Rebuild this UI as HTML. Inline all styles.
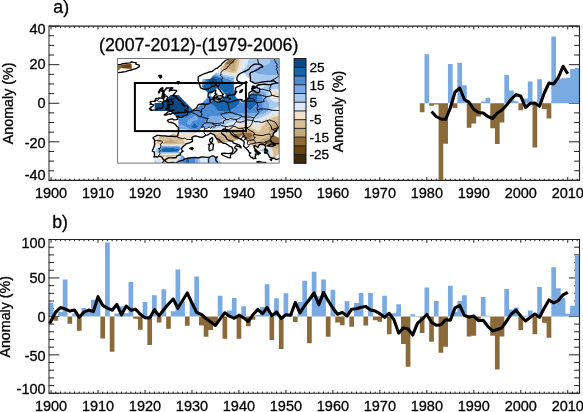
<!DOCTYPE html>
<html><head><meta charset="utf-8"><style>
html,body{margin:0;padding:0;background:#fff;}
body{width:583px;height:412px;overflow:hidden;font-family:"Liberation Sans",sans-serif;}
svg{display:block;}
</style></head><body>
<svg width="583" height="412" viewBox="0 0 583 412">
<rect width="583" height="412" fill="#fff"/>
<path fill="none" stroke="#222" stroke-width="1" d="M51.05 180.4v-3.3M51.05 26.1v3.3M55.75 180.4v-1.7M55.75 26.1v1.7M60.44 180.4v-1.7M60.44 26.1v1.7M65.14 180.4v-1.7M65.14 26.1v1.7M69.84 180.4v-1.7M69.84 26.1v1.7M74.54 180.4v-1.7M74.54 26.1v1.7M79.23 180.4v-1.7M79.23 26.1v1.7M83.93 180.4v-1.7M83.93 26.1v1.7M88.63 180.4v-1.7M88.63 26.1v1.7M93.32 180.4v-1.7M93.32 26.1v1.7M98.02 180.4v-3.3M98.02 26.1v3.3M102.72 180.4v-1.7M102.72 26.1v1.7M107.42 180.4v-1.7M107.42 26.1v1.7M112.11 180.4v-1.7M112.11 26.1v1.7M116.81 180.4v-1.7M116.81 26.1v1.7M121.51 180.4v-1.7M121.51 26.1v1.7M126.21 180.4v-1.7M126.21 26.1v1.7M130.9 180.4v-1.7M130.9 26.1v1.7M135.6 180.4v-1.7M135.6 26.1v1.7M140.3 180.4v-1.7M140.3 26.1v1.7M145 180.4v-3.3M145 26.1v3.3M149.69 180.4v-1.7M149.69 26.1v1.7M154.39 180.4v-1.7M154.39 26.1v1.7M159.09 180.4v-1.7M159.09 26.1v1.7M163.78 180.4v-1.7M163.78 26.1v1.7M168.48 180.4v-1.7M168.48 26.1v1.7M173.18 180.4v-1.7M173.18 26.1v1.7M177.88 180.4v-1.7M177.88 26.1v1.7M182.57 180.4v-1.7M182.57 26.1v1.7M187.27 180.4v-1.7M187.27 26.1v1.7M191.97 180.4v-3.3M191.97 26.1v3.3M196.67 180.4v-1.7M196.67 26.1v1.7M201.36 180.4v-1.7M201.36 26.1v1.7M206.06 180.4v-1.7M206.06 26.1v1.7M210.76 180.4v-1.7M210.76 26.1v1.7M215.46 180.4v-1.7M215.46 26.1v1.7M220.15 180.4v-1.7M220.15 26.1v1.7M224.85 180.4v-1.7M224.85 26.1v1.7M229.55 180.4v-1.7M229.55 26.1v1.7M234.25 180.4v-1.7M234.25 26.1v1.7M238.94 180.4v-3.3M238.94 26.1v3.3M243.64 180.4v-1.7M243.64 26.1v1.7M248.34 180.4v-1.7M248.34 26.1v1.7M253.03 180.4v-1.7M253.03 26.1v1.7M257.73 180.4v-1.7M257.73 26.1v1.7M262.43 180.4v-1.7M262.43 26.1v1.7M267.13 180.4v-1.7M267.13 26.1v1.7M271.82 180.4v-1.7M271.82 26.1v1.7M276.52 180.4v-1.7M276.52 26.1v1.7M281.22 180.4v-1.7M281.22 26.1v1.7M285.92 180.4v-3.3M285.92 26.1v3.3M290.61 180.4v-1.7M290.61 26.1v1.7M295.31 180.4v-1.7M295.31 26.1v1.7M300.01 180.4v-1.7M300.01 26.1v1.7M304.71 180.4v-1.7M304.71 26.1v1.7M309.4 180.4v-1.7M309.4 26.1v1.7M314.1 180.4v-1.7M314.1 26.1v1.7M318.8 180.4v-1.7M318.8 26.1v1.7M323.49 180.4v-1.7M323.49 26.1v1.7M328.19 180.4v-1.7M328.19 26.1v1.7M332.89 180.4v-3.3M332.89 26.1v3.3M337.59 180.4v-1.7M337.59 26.1v1.7M342.28 180.4v-1.7M342.28 26.1v1.7M346.98 180.4v-1.7M346.98 26.1v1.7M351.68 180.4v-1.7M351.68 26.1v1.7M356.38 180.4v-1.7M356.38 26.1v1.7M361.07 180.4v-1.7M361.07 26.1v1.7M365.77 180.4v-1.7M365.77 26.1v1.7M370.47 180.4v-1.7M370.47 26.1v1.7M375.17 180.4v-1.7M375.17 26.1v1.7M379.86 180.4v-3.3M379.86 26.1v3.3M384.56 180.4v-1.7M384.56 26.1v1.7M389.26 180.4v-1.7M389.26 26.1v1.7M393.95 180.4v-1.7M393.95 26.1v1.7M398.65 180.4v-1.7M398.65 26.1v1.7M403.35 180.4v-1.7M403.35 26.1v1.7M408.05 180.4v-1.7M408.05 26.1v1.7M412.74 180.4v-1.7M412.74 26.1v1.7M417.44 180.4v-1.7M417.44 26.1v1.7M422.14 180.4v-1.7M422.14 26.1v1.7M426.84 180.4v-3.3M426.84 26.1v3.3M431.53 180.4v-1.7M431.53 26.1v1.7M436.23 180.4v-1.7M436.23 26.1v1.7M440.93 180.4v-1.7M440.93 26.1v1.7M445.63 180.4v-1.7M445.63 26.1v1.7M450.32 180.4v-1.7M450.32 26.1v1.7M455.02 180.4v-1.7M455.02 26.1v1.7M459.72 180.4v-1.7M459.72 26.1v1.7M464.42 180.4v-1.7M464.42 26.1v1.7M469.11 180.4v-1.7M469.11 26.1v1.7M473.81 180.4v-3.3M473.81 26.1v3.3M478.51 180.4v-1.7M478.51 26.1v1.7M483.2 180.4v-1.7M483.2 26.1v1.7M487.9 180.4v-1.7M487.9 26.1v1.7M492.6 180.4v-1.7M492.6 26.1v1.7M497.3 180.4v-1.7M497.3 26.1v1.7M501.99 180.4v-1.7M501.99 26.1v1.7M506.69 180.4v-1.7M506.69 26.1v1.7M511.39 180.4v-1.7M511.39 26.1v1.7M516.09 180.4v-1.7M516.09 26.1v1.7M520.78 180.4v-3.3M520.78 26.1v3.3M525.48 180.4v-1.7M525.48 26.1v1.7M530.18 180.4v-1.7M530.18 26.1v1.7M534.88 180.4v-1.7M534.88 26.1v1.7M539.57 180.4v-1.7M539.57 26.1v1.7M544.27 180.4v-1.7M544.27 26.1v1.7M548.97 180.4v-1.7M548.97 26.1v1.7M553.66 180.4v-1.7M553.66 26.1v1.7M558.36 180.4v-1.7M558.36 26.1v1.7M563.06 180.4v-1.7M563.06 26.1v1.7M567.76 180.4v-3.3M567.76 26.1v3.3M572.45 180.4v-1.7M572.45 26.1v1.7M577.15 180.4v-1.7M577.15 26.1v1.7M48.7 180.4h10.6M579.5 180.4h-10.6M48.7 170.76h5.3M579.5 170.76h-5.3M48.7 161.11h5.3M579.5 161.11h-5.3M48.7 151.47h5.3M579.5 151.47h-5.3M48.7 141.82h10.6M579.5 141.82h-10.6M48.7 132.18h5.3M579.5 132.18h-5.3M48.7 122.54h5.3M579.5 122.54h-5.3M48.7 112.89h5.3M579.5 112.89h-5.3M48.7 103.25h10.6M579.5 103.25h-10.6M48.7 93.61h5.3M579.5 93.61h-5.3M48.7 83.96h5.3M579.5 83.96h-5.3M48.7 74.32h5.3M579.5 74.32h-5.3M48.7 64.68h10.6M579.5 64.68h-10.6M48.7 55.03h5.3M579.5 55.03h-5.3M48.7 45.39h5.3M579.5 45.39h-5.3M48.7 35.74h5.3M579.5 35.74h-5.3M48.7 26.1h10.6M579.5 26.1h-10.6"/>
<path fill="#79aae1" d="M424.49 103.25H429.18V54.26H424.49ZM447.97 103.25H452.67V63.9H447.97ZM457.37 103.25H462.07V62.75H457.37ZM462.07 103.25H466.76V85.31H462.07ZM480.86 103.25H485.55V101.51H480.86ZM485.55 103.25H490.25V97.66H485.55ZM504.34 103.25H509.04V74.9H504.34ZM509.04 103.25H513.74V90.52H509.04ZM513.74 103.25H518.43V101.32H513.74ZM523.13 103.25H527.83V98.62H523.13ZM527.83 103.25H532.53V81.46H527.83ZM537.22 103.25H541.92V79.33H537.22ZM551.32 103.25H556.01V36.52H551.32ZM556.01 103.25H560.71V79.33H556.01ZM560.71 103.25H565.41V78.37H560.71ZM565.41 103.25H570.11V77.79H565.41ZM570.11 103.25H574.8V69.11H570.11ZM574.8 103.25H579.5V67.95H574.8Z"/>
<path fill="#8b6a3a" d="M419.79 103.25H424.49V112.32H419.79ZM429.18 103.25H433.88V105.85H429.18ZM433.88 103.25H438.58V104.6H433.88ZM438.58 103.25H443.28V179.63H438.58ZM443.28 103.25H447.97V143.75H443.28ZM452.67 103.25H457.37V107.88H452.67ZM466.76 103.25H471.46V127.75H466.76ZM471.46 103.25H476.16V123.5H471.46ZM476.16 103.25H480.86V116.56H476.16ZM490.25 103.25H494.95V128.32H490.25ZM494.95 103.25H499.65V143.95H494.95ZM499.65 103.25H504.34V122.54H499.65ZM518.43 103.25H523.13V110.19H518.43ZM532.53 103.25H537.22V147.61H532.53ZM541.92 103.25H546.62V109.04H541.92ZM546.62 103.25H551.32V118.49H546.62Z"/>
<path fill="none" stroke="#000" stroke-width="3.1" stroke-linejoin="round" d="M431.53 111.5 L436.23 116.5 L440.93 119 L445.63 119.3 L450.32 108 L455.02 92 L459.72 88 L464.42 99.5 L469.11 102.3 L473.81 109.5 L478.51 112.5 L483.2 113 L487.9 116.5 L492.6 118.5 L497.3 113 L501.99 110 L506.69 105 L511.39 99 L516.09 94.5 L520.78 96.2 L525.48 107.5 L530.18 103.3 L534.88 103 L539.57 106.2 L544.27 93 L548.97 83 L553.66 84 L558.36 77.5 L563.06 66.3 L567.76 73.8"/>
<path fill="none" stroke="#222" stroke-width="1.1" d="M49 26.1H579.5V180.4H49"/>
<path fill="none" stroke="#222" stroke-width="1" d="M49 25.55V180.95"/>
<path fill="none" stroke="#222" stroke-width="1" d="M51.05 393.3v-3.3M51.05 239.5v3.3M55.75 393.3v-1.7M55.75 239.5v1.7M60.44 393.3v-1.7M60.44 239.5v1.7M65.14 393.3v-1.7M65.14 239.5v1.7M69.84 393.3v-1.7M69.84 239.5v1.7M74.54 393.3v-1.7M74.54 239.5v1.7M79.23 393.3v-1.7M79.23 239.5v1.7M83.93 393.3v-1.7M83.93 239.5v1.7M88.63 393.3v-1.7M88.63 239.5v1.7M93.32 393.3v-1.7M93.32 239.5v1.7M98.02 393.3v-3.3M98.02 239.5v3.3M102.72 393.3v-1.7M102.72 239.5v1.7M107.42 393.3v-1.7M107.42 239.5v1.7M112.11 393.3v-1.7M112.11 239.5v1.7M116.81 393.3v-1.7M116.81 239.5v1.7M121.51 393.3v-1.7M121.51 239.5v1.7M126.21 393.3v-1.7M126.21 239.5v1.7M130.9 393.3v-1.7M130.9 239.5v1.7M135.6 393.3v-1.7M135.6 239.5v1.7M140.3 393.3v-1.7M140.3 239.5v1.7M145 393.3v-3.3M145 239.5v3.3M149.69 393.3v-1.7M149.69 239.5v1.7M154.39 393.3v-1.7M154.39 239.5v1.7M159.09 393.3v-1.7M159.09 239.5v1.7M163.78 393.3v-1.7M163.78 239.5v1.7M168.48 393.3v-1.7M168.48 239.5v1.7M173.18 393.3v-1.7M173.18 239.5v1.7M177.88 393.3v-1.7M177.88 239.5v1.7M182.57 393.3v-1.7M182.57 239.5v1.7M187.27 393.3v-1.7M187.27 239.5v1.7M191.97 393.3v-3.3M191.97 239.5v3.3M196.67 393.3v-1.7M196.67 239.5v1.7M201.36 393.3v-1.7M201.36 239.5v1.7M206.06 393.3v-1.7M206.06 239.5v1.7M210.76 393.3v-1.7M210.76 239.5v1.7M215.46 393.3v-1.7M215.46 239.5v1.7M220.15 393.3v-1.7M220.15 239.5v1.7M224.85 393.3v-1.7M224.85 239.5v1.7M229.55 393.3v-1.7M229.55 239.5v1.7M234.25 393.3v-1.7M234.25 239.5v1.7M238.94 393.3v-3.3M238.94 239.5v3.3M243.64 393.3v-1.7M243.64 239.5v1.7M248.34 393.3v-1.7M248.34 239.5v1.7M253.03 393.3v-1.7M253.03 239.5v1.7M257.73 393.3v-1.7M257.73 239.5v1.7M262.43 393.3v-1.7M262.43 239.5v1.7M267.13 393.3v-1.7M267.13 239.5v1.7M271.82 393.3v-1.7M271.82 239.5v1.7M276.52 393.3v-1.7M276.52 239.5v1.7M281.22 393.3v-1.7M281.22 239.5v1.7M285.92 393.3v-3.3M285.92 239.5v3.3M290.61 393.3v-1.7M290.61 239.5v1.7M295.31 393.3v-1.7M295.31 239.5v1.7M300.01 393.3v-1.7M300.01 239.5v1.7M304.71 393.3v-1.7M304.71 239.5v1.7M309.4 393.3v-1.7M309.4 239.5v1.7M314.1 393.3v-1.7M314.1 239.5v1.7M318.8 393.3v-1.7M318.8 239.5v1.7M323.49 393.3v-1.7M323.49 239.5v1.7M328.19 393.3v-1.7M328.19 239.5v1.7M332.89 393.3v-3.3M332.89 239.5v3.3M337.59 393.3v-1.7M337.59 239.5v1.7M342.28 393.3v-1.7M342.28 239.5v1.7M346.98 393.3v-1.7M346.98 239.5v1.7M351.68 393.3v-1.7M351.68 239.5v1.7M356.38 393.3v-1.7M356.38 239.5v1.7M361.07 393.3v-1.7M361.07 239.5v1.7M365.77 393.3v-1.7M365.77 239.5v1.7M370.47 393.3v-1.7M370.47 239.5v1.7M375.17 393.3v-1.7M375.17 239.5v1.7M379.86 393.3v-3.3M379.86 239.5v3.3M384.56 393.3v-1.7M384.56 239.5v1.7M389.26 393.3v-1.7M389.26 239.5v1.7M393.95 393.3v-1.7M393.95 239.5v1.7M398.65 393.3v-1.7M398.65 239.5v1.7M403.35 393.3v-1.7M403.35 239.5v1.7M408.05 393.3v-1.7M408.05 239.5v1.7M412.74 393.3v-1.7M412.74 239.5v1.7M417.44 393.3v-1.7M417.44 239.5v1.7M422.14 393.3v-1.7M422.14 239.5v1.7M426.84 393.3v-3.3M426.84 239.5v3.3M431.53 393.3v-1.7M431.53 239.5v1.7M436.23 393.3v-1.7M436.23 239.5v1.7M440.93 393.3v-1.7M440.93 239.5v1.7M445.63 393.3v-1.7M445.63 239.5v1.7M450.32 393.3v-1.7M450.32 239.5v1.7M455.02 393.3v-1.7M455.02 239.5v1.7M459.72 393.3v-1.7M459.72 239.5v1.7M464.42 393.3v-1.7M464.42 239.5v1.7M469.11 393.3v-1.7M469.11 239.5v1.7M473.81 393.3v-3.3M473.81 239.5v3.3M478.51 393.3v-1.7M478.51 239.5v1.7M483.2 393.3v-1.7M483.2 239.5v1.7M487.9 393.3v-1.7M487.9 239.5v1.7M492.6 393.3v-1.7M492.6 239.5v1.7M497.3 393.3v-1.7M497.3 239.5v1.7M501.99 393.3v-1.7M501.99 239.5v1.7M506.69 393.3v-1.7M506.69 239.5v1.7M511.39 393.3v-1.7M511.39 239.5v1.7M516.09 393.3v-1.7M516.09 239.5v1.7M520.78 393.3v-3.3M520.78 239.5v3.3M525.48 393.3v-1.7M525.48 239.5v1.7M530.18 393.3v-1.7M530.18 239.5v1.7M534.88 393.3v-1.7M534.88 239.5v1.7M539.57 393.3v-1.7M539.57 239.5v1.7M544.27 393.3v-1.7M544.27 239.5v1.7M548.97 393.3v-1.7M548.97 239.5v1.7M553.66 393.3v-1.7M553.66 239.5v1.7M558.36 393.3v-1.7M558.36 239.5v1.7M563.06 393.3v-1.7M563.06 239.5v1.7M567.76 393.3v-3.3M567.76 239.5v3.3M572.45 393.3v-1.7M572.45 239.5v1.7M577.15 393.3v-1.7M577.15 239.5v1.7M48.7 393.3h10.6M579.5 393.3h-10.6M48.7 385.61h5.3M579.5 385.61h-5.3M48.7 377.92h5.3M579.5 377.92h-5.3M48.7 370.23h5.3M579.5 370.23h-5.3M48.7 362.54h5.3M579.5 362.54h-5.3M48.7 354.85h10.6M579.5 354.85h-10.6M48.7 347.16h5.3M579.5 347.16h-5.3M48.7 339.47h5.3M579.5 339.47h-5.3M48.7 331.78h5.3M579.5 331.78h-5.3M48.7 324.09h5.3M579.5 324.09h-5.3M48.7 316.4h10.6M579.5 316.4h-10.6M48.7 308.71h5.3M579.5 308.71h-5.3M48.7 301.02h5.3M579.5 301.02h-5.3M48.7 293.33h5.3M579.5 293.33h-5.3M48.7 285.64h5.3M579.5 285.64h-5.3M48.7 277.95h10.6M579.5 277.95h-10.6M48.7 270.26h5.3M579.5 270.26h-5.3M48.7 262.57h5.3M579.5 262.57h-5.3M48.7 254.88h5.3M579.5 254.88h-5.3M48.7 247.19h5.3M579.5 247.19h-5.3M48.7 239.5h10.6M579.5 239.5h-10.6"/>
<path fill="#79aae1" d="M48.7 316.4H53.4V302.87H48.7ZM58.09 316.4H62.79V311.63H58.09ZM62.79 316.4H67.49V279.56H62.79ZM72.19 316.4H76.88V313.4H72.19ZM81.58 316.4H86.28V307.94H81.58ZM86.28 316.4H90.98V310.09H86.28ZM90.98 316.4H95.67V299.71H90.98ZM95.67 316.4H100.37V300.4H95.67ZM105.07 316.4H109.77V242.58H105.07ZM114.46 316.4H119.16V313.48H114.46ZM119.16 316.4H123.86V306.25H119.16ZM123.86 316.4H128.55V313.32H123.86ZM128.55 316.4H133.25V282.03H128.55ZM142.65 316.4H147.34V302.1H142.65ZM152.04 316.4H156.74V295.18H152.04ZM161.44 316.4H166.13V289.25H161.44ZM170.83 316.4H175.53V311.17H170.83ZM175.53 316.4H180.23V269.41H175.53ZM180.23 316.4H184.92V301.79H180.23ZM189.62 316.4H194.32V302.56H189.62ZM194.32 316.4H199.02V276.57H194.32ZM217.8 316.4H222.5V295.79H217.8ZM227.2 316.4H231.9V310.4H227.2ZM231.9 316.4H236.59V298.1H231.9ZM241.29 316.4H245.99V306.17H241.29ZM255.38 316.4H260.08V315.02H255.38ZM260.08 316.4H264.78V307.1H260.08ZM264.78 316.4H269.48V284.18H264.78ZM274.17 316.4H278.87V298.17H274.17ZM283.57 316.4H288.26V293.18H283.57ZM288.26 316.4H292.96V314.09H288.26ZM297.66 316.4H302.36V302.1H297.66ZM302.36 316.4H307.05V280.87H302.36ZM311.75 316.4H316.45V271.87H311.75ZM316.45 316.4H321.15V296.25H316.45ZM321.15 316.4H325.84V279.49H321.15ZM330.54 316.4H335.24V289.72H330.54ZM344.63 316.4H349.33V301.33H344.63ZM354.03 316.4H358.72V303.1H354.03ZM358.72 316.4H363.42V293.1H358.72ZM368.12 316.4H372.82V293.1H368.12ZM382.21 316.4H386.91V295.79H382.21ZM391.61 316.4H396.3V313.25H391.61ZM396.3 316.4H401V304.25H396.3ZM410.4 316.4H415.09V314.32H410.4ZM415.09 316.4H419.79V316.02H415.09ZM424.49 316.4H429.18V287.56H424.49ZM433.88 316.4H438.58V301.1H433.88ZM447.97 316.4H452.67V285.72H447.97ZM452.67 316.4H457.37V311.79H452.67ZM457.37 316.4H462.07V301.1H457.37ZM462.07 316.4H466.76V295.18H462.07ZM480.86 316.4H485.55V297.02H480.86ZM485.55 316.4H490.25V315.63H485.55ZM504.34 316.4H509.04V288.95H504.34ZM509.04 316.4H513.74V309.48H509.04ZM513.74 316.4H518.43V307.48H513.74ZM523.13 316.4H527.83V315.63H523.13ZM527.83 316.4H532.53V310.56H527.83ZM537.22 316.4H541.92V287.02H537.22ZM551.32 316.4H556.01V267.18H551.32ZM556.01 316.4H560.71V288.25H556.01ZM560.71 316.4H565.41V298.25H560.71ZM565.41 316.4H570.11V313.71H565.41ZM570.11 316.4H574.8V305.79H570.11ZM574.8 316.4H579.5V255.34H574.8Z"/>
<path fill="#8b6a3a" d="M53.4 316.4H58.09V320.71H53.4ZM67.49 316.4H72.19V323.63H67.49ZM76.88 316.4H81.58V330.86H76.88ZM100.37 316.4H105.07V338.62H100.37ZM109.77 316.4H114.46V351.7H109.77ZM133.25 316.4H137.95V318.63H133.25ZM137.95 316.4H142.65V329.86H137.95ZM147.34 316.4H152.04V344.93H147.34ZM156.74 316.4H161.44V322.55H156.74ZM166.13 316.4H170.83V328.7H166.13ZM184.92 316.4H189.62V325.7H184.92ZM199.02 316.4H203.71V325.55H199.02ZM203.71 316.4H208.41V336.86H203.71ZM208.41 316.4H213.11V329.93H208.41ZM213.11 316.4H217.8V325.24H213.11ZM222.5 316.4H227.2V338.7H222.5ZM236.59 316.4H241.29V338.7H236.59ZM245.99 316.4H250.69V326.24H245.99ZM250.69 316.4H255.38V319.86H250.69ZM269.48 316.4H274.17V339.93H269.48ZM278.87 316.4H283.57V348.93H278.87ZM292.96 316.4H297.66V321.94H292.96ZM307.05 316.4H311.75V343.16H307.05ZM325.84 316.4H330.54V336.86H325.84ZM335.24 316.4H339.94V322.55H335.24ZM339.94 316.4H344.63V325.24H339.94ZM349.33 316.4H354.03V326.63H349.33ZM363.42 316.4H368.12V325.55H363.42ZM372.82 316.4H377.51V320.32H372.82ZM377.51 316.4H382.21V321.63H377.51ZM386.91 316.4H391.61V334.32H386.91ZM401 316.4H405.7V344.08H401ZM405.7 316.4H410.4V366.69H405.7ZM419.79 316.4H424.49V333.01H419.79ZM429.18 316.4H433.88V341.7H429.18ZM438.58 316.4H443.28V352.7H438.58ZM443.28 316.4H447.97V346.85H443.28ZM466.76 316.4H471.46V336.47H466.76ZM471.46 316.4H476.16V335.86H471.46ZM476.16 316.4H480.86V319.78H476.16ZM490.25 316.4H494.95V335.86H490.25ZM494.95 316.4H499.65V369.46H494.95ZM499.65 316.4H504.34V336.47H499.65ZM518.43 316.4H523.13V329.93H518.43ZM532.53 316.4H537.22V334.32H532.53ZM541.92 316.4H546.62V322.71H541.92ZM546.62 316.4H551.32V337.7H546.62Z"/>
<path fill="none" stroke="#000" stroke-width="3.1" stroke-linejoin="round" d="M49.6 323.6 L55.75 312.1 L60.44 307.5 L65.14 309 L69.84 311.1 L74.54 310.1 L79.23 317.3 L83.93 312.1 L88.63 310.1 L93.32 311.6 L98.02 296.7 L102.72 305.4 L107.42 308.1 L112.11 310.2 L116.81 304.5 L121.51 314.8 L126.21 306.1 L130.9 310.2 L135.6 309.2 L140.3 314.3 L145 317.7 L149.69 317.9 L154.39 309.7 L159.09 315.9 L163.78 309.5 L168.48 304 L173.18 299 L177.88 308.3 L182.57 300.5 L187.27 293 L191.97 303 L196.67 312.4 L201.36 314.5 L206.06 318.5 L210.76 322 L215.46 325.4 L220.15 318.9 L224.85 312.8 L229.55 316.2 L234.25 318.3 L238.94 315.2 L243.64 317.8 L248.34 321.4 L253.03 314.7 L257.73 309.5 L262.43 313.7 L267.13 307.5 L271.82 315.7 L276.52 312 L281.22 318.4 L285.92 314.8 L290.61 315.3 L295.31 302.5 L300.01 312.8 L304.71 305.5 L309.4 299.5 L314.1 293 L318.8 304.8 L323.49 292.4 L328.19 300.7 L332.89 308 L337.59 314.2 L342.28 312.4 L346.98 316 L351.68 309.2 L356.38 308.8 L361.07 307.2 L365.77 306.5 L370.47 310.1 L375.17 311.1 L379.86 313.7 L384.56 317.3 L389.26 313.3 L393.95 319.7 L398.65 333.1 L403.35 327.9 L408.05 329 L412.74 335 L417.44 323.3 L422.14 319.2 L426.84 314.5 L431.53 322.3 L436.23 325.3 L440.93 324.8 L445.63 319.7 L450.32 320.2 L455.02 307.9 L459.72 305.3 L464.42 315.6 L469.11 317.1 L473.81 316.1 L478.51 320.7 L483.2 320.2 L487.9 326.4 L492.6 331 L497.3 329.5 L501.99 327.7 L506.69 321 L511.39 314 L516.09 310.2 L520.78 316 L525.48 321 L530.18 317.5 L534.88 314 L539.57 317.3 L544.27 308 L548.97 300 L553.66 302.8 L558.36 300.6 L563.06 294.8 L567.76 292.3"/>
<path fill="none" stroke="#222" stroke-width="1.1" d="M49 239.5H579.5V393.3H49"/>
<path fill="none" stroke="#222" stroke-width="1" d="M49 238.95V393.85"/>
<g font-family="Liberation Sans, sans-serif" fill="#000" stroke="#000" stroke-width="0.3" style="filter:grayscale(1)"><text x="45.6" y="34.1" font-size="14.5" text-anchor="end">40</text><text x="45.6" y="69.3" font-size="14.5" text-anchor="end">20</text><text x="45.6" y="108" font-size="14.5" text-anchor="end">0</text><text x="45.6" y="147.8" font-size="14.5" text-anchor="end">-20</text><text x="45.6" y="180.2" font-size="14.5" text-anchor="end">-40</text><text x="45.6" y="248.4" font-size="14.5" text-anchor="end">100</text><text x="45.6" y="283.1" font-size="14.5" text-anchor="end">50</text><text x="45.6" y="321.6" font-size="14.5" text-anchor="end">0</text><text x="45.6" y="360.5" font-size="14.5" text-anchor="end">-50</text><text x="45.6" y="393.9" font-size="14.5" text-anchor="end">-100</text><text x="51.05" y="198.1" font-size="14.5" text-anchor="middle">1900</text><text x="51.05" y="411.4" font-size="14.5" text-anchor="middle">1900</text><text x="98.02" y="198.1" font-size="14.5" text-anchor="middle">1910</text><text x="98.02" y="411.4" font-size="14.5" text-anchor="middle">1910</text><text x="145" y="198.1" font-size="14.5" text-anchor="middle">1920</text><text x="145" y="411.4" font-size="14.5" text-anchor="middle">1920</text><text x="191.97" y="198.1" font-size="14.5" text-anchor="middle">1930</text><text x="191.97" y="411.4" font-size="14.5" text-anchor="middle">1930</text><text x="238.94" y="198.1" font-size="14.5" text-anchor="middle">1940</text><text x="238.94" y="411.4" font-size="14.5" text-anchor="middle">1940</text><text x="285.92" y="198.1" font-size="14.5" text-anchor="middle">1950</text><text x="285.92" y="411.4" font-size="14.5" text-anchor="middle">1950</text><text x="332.89" y="198.1" font-size="14.5" text-anchor="middle">1960</text><text x="332.89" y="411.4" font-size="14.5" text-anchor="middle">1960</text><text x="379.86" y="198.1" font-size="14.5" text-anchor="middle">1970</text><text x="379.86" y="411.4" font-size="14.5" text-anchor="middle">1970</text><text x="426.84" y="198.1" font-size="14.5" text-anchor="middle">1980</text><text x="426.84" y="411.4" font-size="14.5" text-anchor="middle">1980</text><text x="473.81" y="198.1" font-size="14.5" text-anchor="middle">1990</text><text x="473.81" y="411.4" font-size="14.5" text-anchor="middle">1990</text><text x="520.78" y="198.1" font-size="14.5" text-anchor="middle">2000</text><text x="520.78" y="411.4" font-size="14.5" text-anchor="middle">2000</text><text x="567.76" y="198.1" font-size="14.5" text-anchor="middle">2010</text><text x="567.76" y="411.4" font-size="14.5" text-anchor="middle">2010</text><text x="53.3" y="12.8" font-size="17.7" text-anchor="start">a)</text><text x="52.2" y="228.3" font-size="17.7" text-anchor="start">b)</text><text transform="translate(13.3 103.35) rotate(-90)" font-size="14.25" text-anchor="middle">Anomaly (%)</text><text transform="translate(9.9 316.8) rotate(-90)" font-size="14.25" text-anchor="middle">Anomaly (%)</text></g>
<defs><clipPath id="mc"><rect x="117.6" y="58.5" width="161.6" height="104.6"/></clipPath></defs>
<g clip-path="url(#mc)">
<rect x="117.6" y="58.5" width="161.6" height="104.6" fill="#fff"/>
<path fill="#0c4a84" fill-rule="evenodd" d="M223.9 97.2L226 97.8L234 95.1L233.9 94.8L231.6 93.3L228.4 92.4L227.6 92.4L226 92.2L223.4 92.4L226 95ZM209.2 82.1L208.9 84L210.1 87.1L213 85.9L215.3 84.1L217 81.8L218.2 78.8L214.6 78.3L212.1 76.9L210.1 78.9L208.9 78.9L208.8 80.1ZM174.8 115.5L177.7 114.4L178.5 114.3L186.4 114.1L188.1 112.9L189.8 111.1L189.6 110.2L189.6 107.9L188.2 105.2L186.4 104.3L185.7 103.7L185.2 103L185.2 101.9L178.4 95L170.5 95L162.6 103L154.7 103L154.7 111.1L170.5 111.1Z"/>
<path fill="#1565ad" fill-rule="evenodd" d="M244.2 100.6L244.3 103.1L244.7 104L246.1 106.6L247.8 109L249.7 111.3L257.8 103.1L257.8 94.9L254 94.6L253 94.1L251 93.7ZM212.3 77.2L214 78.4L214.5 78.5L217.9 79L216.8 81.7L215.1 84L212.9 85.7L210.2 86.8L209.1 84L209.4 82.1L209.1 80.1L209.2 78.9L207.1 78.9L207 79.9L206 82.8L204.2 84.8L202.2 85.8L202.2 86.9L208 92.9L210.1 92.8L212 93L218.1 86.9L223.6 92.6L226 92.4L227.5 92.7L228.3 92.7L231.5 93.5L233.6 94.9L226 97.5L224 97L218.1 103L214 98.9L209.9 103L212.3 104.8L214.4 106.7L216.3 108.8L218 111.2L225.3 111.9L226 111.9L230 111.2L232.3 109.5L234.8 108L237.1 106.2L238.8 104L240.1 101.3L233.9 95L233.9 84.1L228.9 83.8L226 83.4L225.6 83.2L223.7 81.2L222.5 78.8L219.2 77.6L216 76.8L214.1 76.1L213.4 75.6L211.9 77.1ZM202.3 102.9L202.2 103L202.1 103.1L202.3 103.1ZM189.8 127.2L190.3 127.5L194.3 128.4L195.4 128.4L198 127.6L198.5 127.5L198.8 127.2L198.7 126.8L196.7 124.7L195 123.1L194.6 122.8L194.3 122.8L194 122.9L192.4 125.3L190.3 126.8L190 126.8ZM175.7 115L174.6 115.3L177 117.6L178.5 117.4L186.4 116.9L187.7 116.5L190.1 114.9L192.1 112.8L193.1 111.1L193.1 109.9L185 101.6L184.9 103.1L185.5 103.9L186.3 104.5L188 105.3L189.3 108L189.3 110.2L189.5 111L188 112.7L186.3 113.8L178.4 114.1L177.6 114.2ZM160.7 151.4L162.6 152L170.5 152L178.4 151.7L179 151.9L178.4 151.3L179.3 150.5L178.5 148.5L177.3 148.3L175.6 148.3L173.6 148.1L170.5 148L162.5 148L161.6 150.3ZM185.1 158L185.3 159.4L185.1 163.1L189.7 163.1L189.7 157.6L186.4 157.6L186.4 159.4Z"/>
<path fill="#4a8ad6" fill-rule="evenodd" d="M267 152.8L267.2 151.3L265.6 149.9L264.7 150.3L263.3 151.3L265.6 151.3ZM180 124.9L180.8 124.9L183.9 125.7L186.3 127.3L188.9 128.7L190.3 129.1L194.3 129.9L195.8 129.8L197 130L199.6 129.9L202.2 127.2L203.7 127.2L204.2 125.1L205.3 122.2L206.9 119.8L207.6 119.2L208.7 117.7L210.2 116.6L211.2 116.3L212.8 116.5L215 116.2L217 116.3L218.1 116.2L222.4 115.6L226 115.2L233.9 114.1L241.8 113.4L249.7 113.9L252.2 113.7L257.7 113.1L263.7 111.2L263.3 109.5L263.3 108.7L262.9 105.9L262.9 104.2L262.7 103L262.7 94.9L262.2 94.4L259.4 93.1L256.2 92.3L253.5 91.1L250.7 94L252.9 94.3L253.9 94.8L257.5 95.1L257.5 103L249.7 110.9L248 108.9L246.3 106.5L245 103.9L244.6 103L244.4 100.4L241.8 103L239.9 101.1L238.6 103.9L236.9 106.1L234.7 107.8L232.2 109.3L229.9 111L226 111.6L221.6 111.4L218.1 111L216.5 108.7L214.6 106.5L212.5 104.6L210.3 103L214.2 99.1L210.1 95L194.3 111.1L192.8 109.6L192.8 111L191.9 112.7L189.9 114.7L187.5 116.2L186.3 116.7L178.4 117.1L176.8 117.4L178.4 119.1L178.4 124.6ZM190.1 127.1L192.6 125.5L194.3 123L194.9 123.2L196.6 124.8L198.5 126.9L198.6 127.1L198.4 127.3L198 127.3L195.3 128.1L194.3 128.2ZM187.3 123.1L187.8 121.8L188.1 120.8L189.1 119.2L190.1 119L191.3 118.3L192.8 117.7L194.3 116.1L196.3 117.1L198 119.1L195.4 120.2L194.3 120.1L192.5 120.8L191.4 120.2L192 121.4L191.3 123.1L190.8 123.7L190.3 124.1L189 124.4ZM212.3 92.8L210.1 92.6L207.8 92.6L210.1 95ZM216.1 77.1L219.1 77.9L222.4 79L223.5 81.4L225.5 83.4L225.9 83.6L228.9 84.1L233.9 84.4L233.9 80.8L232.3 80.4L229.3 79.4L228 78.8L226 78.4L223.4 77.4L217.2 75.7L214.5 74.5L213.2 75.8L214 76.3ZM205.3 78.9L204.3 81.1L202.5 83.1L202.2 83.3L202.2 86L204.3 85.1L206.2 82.9L207.3 79.9L207.4 78.9ZM195.4 163.1L195.5 157.6L189.4 157.6L189.4 163.1ZM178.5 146.6L162.6 146.6L162.1 146.7L161.4 147.2L160.4 149.2L158.6 151.4L161.6 152.5L162.6 152.6L170.5 152.6L178.4 152.4L180.2 153.1L178.7 151.6L178.5 151.5L170.5 151.7L162.6 151.7L161.1 151.3L161.8 150.5L162.7 148.2L170.5 148.2L173.6 148.3L175.6 148.6L177.3 148.6L178.3 148.7L179.1 150.7L180.7 149L179.5 147.2L178.9 146.7ZM181.1 154.1L182 155.4L181.9 155.7L182.3 157.9L182.8 159.4L182.1 163.1L185.3 163.1L185.5 159.4L185.3 158.3Z"/>
<path fill="#7aaae3" fill-rule="evenodd" d="M258.2 74.4L261.8 74.8L269.3 75.2L274.1 75.6L279.2 75.7L279.2 58.5L269.4 58.5L269.4 62.7L267.2 64.3L265.6 65L260.6 65.7L257.6 66.7L255.3 68.5L253.5 70.8L255.6 72.9L257.6 74.2ZM206.7 119.7L205.1 122.1L204 125L203.4 127.2L210.1 127.2L210.2 127.3L212.5 125.6L215 124.1L218.1 122.5L222.5 119.7L223.4 119.2L225.4 118.7L243.5 116.9L257.7 116.1L261.2 114.8L265.6 113.3L268.9 111.1L268.8 110.2L269.1 107.6L269.1 106.4L269.7 103L267.7 100.9L266.8 97.9L266.8 96.1L266.6 94.1L265.7 92.2L264.9 91.6L261.6 90.8L257.2 90.3L255 89.6L253.3 91.3L256.2 92.5L259.3 93.3L262 94.6L262.5 95L262.5 103L262.6 104.2L262.6 105.9L263.1 108.7L263.1 109.5L263.5 111L257.6 112.8L252.2 113.4L249.7 113.6L241.8 113.1L233.9 113.9L217 116.1L215 115.9L212.8 116.3L211.2 116.1L210.1 116.3L208.5 117.5L207.4 119ZM261.3 151L261.1 151.3L263.6 151.3L264.8 150.6L265.6 150.2L267 151.4L266.8 152.6L268.2 154L268.8 151.3L267.1 149.7L265.6 148.7L263.8 149.5ZM214.4 74.7L217.1 75.9L223.3 77.6L225.9 78.6L227.9 79L229.2 79.6L232.2 80.6L233.9 81L233.9 78.9L234.8 78L233.9 78.1L226 76.6L221.6 75.2L217.7 74.4L215.4 73.6ZM202.2 83.5L202.6 83.3L204.5 81.2L205.6 78.9L203.5 78.9L203.1 79.8L202.2 80.7ZM178.4 129.1L186.3 129.7L187.5 130.2L190.8 130.8L197.7 131.8L199.8 129.7L197 129.8L195.8 129.6L194.3 129.6L190.4 128.9L189 128.5L186.4 127.1L184 125.5L180.8 124.6L180 124.6L178.4 124.4L178.4 127.2L176.9 128.7ZM187.8 120.7L187.6 121.8L187 123.2L189 124.6L190.4 124.3L191 123.9L191.5 123.2L192.2 121.4L191.9 120.7L192.5 121L194.3 120.3L195.4 120.4L198.4 119.2L196.4 116.9L194.3 115.8L192.7 117.5L191.2 118.1L190 118.7L188.9 119ZM195.2 157.6L195.2 163.1L197.9 163.1L198.1 157.6ZM170.5 146L162.6 145.9L161.5 146.1L160.1 147.2L159.6 148.3L158.6 149.5L157.5 150.2L156.6 151.3L157.7 152.3L158.6 152.3L159.7 152.5L161 153L162.6 153.3L178.4 153.1L180 153.8L181.2 155.4L180.9 156.8L181.1 158.1L180.3 159.3L179.9 160.9L179 163.1L182.3 163.1L183 159.4L182.5 157.8L182.2 155.7L182.2 155.3L179.8 152.7L178.5 152.2L170.5 152.4L162.6 152.4L161.6 152.2L159 151.3L160.6 149.3L161.6 147.4L162.2 146.9L162.6 146.9L178.4 146.9L178.8 147L179.3 147.4L180.5 149.2L181.4 148.3L180.7 147.2L179.5 146.2L178.5 145.9Z"/>
<path fill="#a9c9ef" fill-rule="evenodd" d="M215.2 73.8L217.7 74.6L221.5 75.5L225.9 76.8L233.9 78.3L234.5 78.3L236.7 76L233.9 76.3L226 74.7L222.8 73.9L216.3 72.6ZM254.2 83.4L257 82.3L258.5 82.1L261.6 83L263.3 85.2L263.5 86.9L262.2 87.4L260.9 87.5L258.9 88.1L257.7 88.1L256.7 88L254.8 89.8L257.1 90.5L261.6 91.1L264.8 91.8L265.5 92.4L266.3 94.1L266.6 96.1L266.6 97.9L267.5 101L269.4 103.1L268.8 106.4L268.9 107.6L268.6 110.2L268.6 111L265.5 113.1L261.2 114.6L257.6 115.9L243.5 116.7L226 118.3L223.3 119L219.9 121L218 122.2L214.8 123.9L212.4 125.4L210 127.1L213.2 130.3L214.2 129.6L215.7 128.9L222.1 127.3L226.8 124.1L229.6 122.9L232.6 121.9L236 121.4L243.1 120.6L246.5 120L249.8 119.2L257.7 119.2L260.5 118L266.2 115.7L270.8 112.7L272.8 111.1L273 110.5L273.6 109.2L279.2 106.3L279.2 101.7L273.5 101.2L272.1 100.4L270.2 98.4L268.9 95.7L268.7 94.1L269.8 91.1L272 89.4L273.5 89.2L279.2 89.8L279.2 75.5L274.1 75.3L269.4 74.9L261.9 74.5L258.3 74.1L257.7 73.9L255.8 72.7L253.9 70.8L255.5 68.6L257.7 66.9L260.7 66L265.6 65.2L267.3 64.5L269.7 62.8L269.7 58.5L248.6 58.5L247 64.1L245.7 66.7L244 69L241.7 70.8L241.7 70.9L241.8 70.8ZM212.8 131.3L213.1 130.5L211.8 130.5L212.4 131.5ZM261.3 151.3L263.9 149.7L265.6 148.9L267 149.9L268.5 151.4L268 153.8L269.2 155L269.7 153.4L270.2 151.9L270.3 151.3L270 150.9L267.9 149L265.6 147.4L262.8 148.4L260.2 149.8L258.9 151.3ZM206.8 160.1L207 163.1L221.7 163.1L218.1 159.4L218.1 157.6L206.8 157.6ZM203.3 79.9L203.8 78.9L202.2 78.9L202.2 81ZM178.4 131.3L187.1 132.1L188.9 132.4L191.5 132.5L196.5 133L197.9 131.6L190.8 130.6L187.5 129.9L186.4 129.4L178.5 128.8L177.1 128.5L175.5 130.2ZM197.9 157.6L197.6 163.1L200.4 163.1L200.7 159.4L200.7 157.6ZM162.6 146.2L178.4 146.2L179.4 146.4L180.5 147.4L181.3 148.5L182.2 147.5L181.9 147.2L180 145.6L178.5 145.2L170.5 145.4L162.6 145.2L160.9 145.6L158.8 147.2L158.6 147.6L157.6 148.1L156.1 148.8L154.7 151.1L154.7 163.1L159 163.1L156.5 161.5L154.8 159.3L154.8 151.6L156.7 153.3L158.6 153.2L160.4 153.6L162.6 153.9L178.4 153.8L179.5 154.3L180.3 155.4L180 157L178.4 159L177.5 159.3L176 161L173.8 162.7L173 163.1L179.3 163.1L180.1 161L180.5 159.4L181.3 158.2L181.1 156.8L181.4 155.3L180.2 153.6L178.5 152.9L162.6 153L161.1 152.8L159.7 152.3L158.6 152L157.8 152.1L156.9 151.3L157.7 150.3L158.7 149.7L159.8 148.4L160.3 147.4L161.6 146.4Z"/>
<path fill="#dbe8f7" fill-rule="evenodd" d="M214.8 132L218.1 130.6L221.1 130.3L224.5 129.8L226 129.5L233.9 125.7L241.8 124.4L249.7 124.3L252.3 124.7L257.7 126L258.9 124.4L260.8 122.3L262.9 120.4L264.3 119.2L267.9 117.5L270.5 116.1L273.6 113.9L279.2 112.9L279.2 106L273.4 109L272.8 110.4L272.6 111L270.9 112.4L268.5 114L266 115.5L260.4 117.8L257.6 119L249.7 119L246.5 119.8L243.1 120.3L236 121.1L232.5 121.7L229.5 122.6L226.7 123.8L222 127.1L215.6 128.7L214 129.4L213 130.1L213.4 130.5L212.9 130.5L212.6 131.1L212.3 131.3L213.1 132.7L214.1 132.1ZM268.7 95.8L270 98.5L272 100.6L273.5 101.4L279.2 101.9L279.2 97.8L276.7 98.1L273.6 98.3L271.9 96.6L271 95L271.9 93.3L273.5 91.9L279.2 92.8L279.2 89.6L273.5 89L271.9 89.2L269.6 91L268.5 94ZM260.3 150L262.9 148.7L265.6 147.7L267.7 149.2L270 151.4L269 154.8L270.6 156.4L271.1 155.4L271.5 153.3L271.8 151.3L270.9 150L268.7 148.1L267.4 147.2L266.2 146.6L265.6 146.4L264.8 146.4L262.2 147.2L261.1 147.7L258.7 148.3L257.6 149.6L256.2 149.9L257.7 151.3L259.1 151.3ZM256.4 88.2L257.7 88.4L258.9 88.3L260.9 87.8L262.3 87.7L263.7 87L263.5 85.1L261.7 82.8L258.6 81.9L257 82.1L255.2 82.8L253.9 83.2L257.7 86.9ZM216.1 72.9L222.8 74.1L225.9 75L233.9 76.5L236.4 76.3L241.8 70.8L241.9 70.9L244.2 69.2L245.9 66.9L247.2 64.2L248.9 58.5L243.4 58.5L241.7 62.7L238.9 71.9L237 73.9L233.9 74.5L224.2 72.5L217.4 71.4ZM200.5 159.4L200.1 163.1L207.2 163.1L207 160.1L207.1 157.6L200.5 157.6ZM176.8 133L178.4 133.6L187.3 134.4L189.2 134.2L191.3 134.3L193.1 134.2L195.2 134.3L196.7 132.7L191.5 132.3L189.2 132.2L187.1 131.8L178.5 131.1L175.7 130L174.2 131.5ZM154.7 146.2L154.7 159.6L156.4 161.7L158.5 163.1L173.6 163.1L176.2 161.1L177.6 159.5L178.5 159.2L180.2 157.1L180.6 155.3L179.7 154.1L178.5 153.6L162.6 153.7L160.5 153.4L158.6 153L156.8 153.1L154.8 151.3L156.3 149L157.8 148.4L158.7 147.8L159 147.4L161 145.8L162.6 145.5L170.5 145.7L178.4 145.5L179.9 145.8L181.7 147.4L182 147.7L183.4 146.3L182.4 146.1L180.7 144.9L180.2 145L178.5 144.5L170.5 144.8L162.6 144.5L160.9 144.9L160.2 144.8L158.6 145.6L157.1 145.6L155.6 146.2ZM158.7 158.2L157.1 157L156.5 155.4L157.5 154.2L158.6 154.2L159.7 154.4L161.5 154.4L162.6 154.6L178.4 154.5L179 154.8L179.5 155.4L179.3 156.3L178.4 157.4L176.8 157.7L175.4 158.3L173.9 158.7L171.6 160.5L170.5 161.1L165.6 160.2L159.6 158.3Z"/>
<path fill="#eee0cc" fill-rule="evenodd" d="M214.1 133.7L216.2 133.4L218.1 133L226 133.2L229.7 131L233.9 129L241.8 127.8L249.7 128.2L252.2 128.8L255.1 129.8L257.3 131.5L257.6 131.9L258.2 131.9L260.7 130.2L261.7 127.2L263.6 125.2L265.7 123.2L268 121.6L270.2 119.2L273.6 117.2L279.2 116.3L279.2 112.7L273.5 113.6L270.3 115.9L267.8 117.3L264.2 119L262.7 120.2L260.7 122.2L258.7 124.3L257.6 125.7L252.3 124.5L249.8 124L248.8 124L241.8 124.1L233.9 125.4L225.9 129.3L224.5 129.6L221 130.1L218 130.4L214.7 131.7L214 131.8L213 132.5L213.7 134ZM273.5 98.6L276.7 98.4L279.2 98.1L279.2 92.6L273.5 91.6L271.7 93.2L270.7 95L271.7 96.7ZM273.5 94.6L275.6 95L273.6 95.4L273.2 95ZM257.7 149.8L258.8 148.5L261.2 147.9L262.3 147.4L264.9 146.7L266.2 146.8L267.2 147.4L268.6 148.3L270.7 150.1L271.6 151.4L271.3 153.2L270.8 155.3L270.4 156.2L273.5 159.4L273.6 159.3L273.2 155.8L273.4 155.2L273.3 151.3L271.9 149L269.5 147.2L267 145.8L265.6 145.5L263.9 145.5L263.1 145.7L261.6 145.7L260 145.6L259 145.9L257.7 145.6L256.4 145.9L253.6 147.2L256.4 150.1ZM217.2 71.7L224.2 72.8L233.9 74.8L237.1 74.1L239.1 72L241.9 62.8L243.6 58.5L239.8 58.5L239.1 62.7L236.8 70.8L235.3 72.2L233.9 72.8L225.7 71L223.4 70.7L222.1 70.2L220.2 68.6ZM155.6 146.5L157.1 145.8L158.7 145.9L160.2 145L160.9 145.1L162.6 144.8L170.5 145L178.4 144.8L180.2 145.2L180.7 145.1L182.4 146.3L183.2 146.5L195.5 134L193.1 133.9L191.3 134.1L189.2 134L187.3 134.2L178.5 133.3L176.9 132.7L174.4 131.3L172.5 133.2L174.4 134.7L176.4 135.3L178.4 136.7L180.1 137.6L182.3 139.3L184.1 141.6L184.9 143.2L183.4 144.2L182.4 144L181.9 143.6L179.3 144.1L178.5 143.8L170.5 144.2L162.6 143.8L161.7 144L159 143.5L158.6 143.7L158.1 143.7L157.1 143.2L157.4 141.9L158.5 139L159.8 136.4L160.7 135.2L154.7 135.2L154.7 146.4ZM179.2 154.6L178.5 154.3L162.6 154.3L161.5 154.2L159.7 154.2L158.6 153.9L157.4 154L156.2 155.3L156.9 157.1L158.6 158.4L159.5 158.6L165.6 160.5L170.5 161.4L171.8 160.7L174 158.9L175.5 158.5L176.9 157.9L178.5 157.6L179.5 156.4L179.7 155.3ZM158.6 155.1L178.4 155.2L178.6 155.4L178.4 155.9L177.7 156L175.2 156L173.2 156.5L171.8 156.5L170.5 157.2L168.9 156.9L165.3 156.5L163.9 156.5L161.6 156.2L159.6 156.2L158.7 156.1L158.3 155.8L158.1 155.4L158.3 155.1Z"/>
<path fill="#d7bf98" fill-rule="evenodd" d="M225.9 132.9L218 132.7L216.1 133.2L214 133.5L213.6 133.8L214.3 135.3L218 135.3L221.2 136.1L223.6 137.7L225.1 140L225.6 142.3L226.7 142.2L227.5 140.8L228.1 135.3L231.7 133L233.9 131.9L241.8 130.5L249 130.6L250.3 130.8L252.9 132.1L255.1 133.8L256.2 135.3L255.8 137L255.8 137.5L254.7 140.3L252.4 141.9L250.8 142L249.7 142.4L249 142.5L253.8 147.4L256.4 146.1L257.7 145.8L259 146.1L260.1 145.8L261.6 146L263.1 145.9L263.9 145.7L265.6 145.7L266.9 146L269.4 147.4L271.7 149.2L273.1 151.4L273.2 155.1L273 155.8L273.4 159.2L273.5 159.4L279.2 153.6L279.2 147.6L273.6 148.5L273.1 147.7L270.8 146L267.8 144.9L267.3 144.9L265.6 144.5L264.3 144.5L262.5 144L260.9 143.9L259.6 143.2L260 141.6L261.9 139.5L264.6 138.3L265.6 138.3L267.4 137.1L269.2 135.3L269.1 134.7L269.1 131.7L268.8 130.3L268.8 128L268.4 127.2L269.2 126.9L271.6 125.3L273.6 123.3L276.6 122.4L279.2 121.1L279.2 116L273.5 117L270 119L267.8 121.4L265.5 123.1L263.5 125L261.5 127.1L260.5 130L258.2 131.6L257.7 131.7L257.5 131.4L255.2 129.6L252.3 128.5L249.8 128L241.8 127.6L233.9 128.8L229.6 130.8ZM273.5 95.7L276.7 95L273.5 94.3L272.9 95ZM221.9 70.4L223.3 70.9L225.7 71.2L233.9 73.1L235.4 72.4L237 70.9L239.3 62.8L240.1 58.5L237.1 58.5L236.4 62.8L234.3 70.8L234.1 71L233.9 71L232.4 70.7L231.1 69.6L228.3 68.4L227.5 68.2L225.3 67.5L223.9 66.7L222.6 66.2L220.1 68.8ZM159.6 136.3L158.2 138.9L157.2 141.9L156.8 143.3L158.1 144L158.7 144L159 143.8L161.7 144.3L162.6 144.1L170.5 144.4L178.4 144.1L179.3 144.3L181.9 143.9L182.4 144.2L183.4 144.4L185.2 143.3L184.3 141.4L182.5 139.2L180.3 137.4L178.5 136.5L176.5 135.1L174.5 134.5L172.7 133L170.5 135.2L160.5 135.2ZM165 141.7L167.4 140.2L170.5 138.6L173.3 140.5L178 143.2L170.5 143.5L162.9 143.2ZM161.6 156.4L163.9 156.8L165.3 156.8L168.8 157.2L170.5 157.5L171.8 156.8L173.2 156.8L175.2 156.2L177.7 156.2L178.5 156.1L178.8 155.7L178.9 155.3L178.7 155.1L178.5 155L162.6 155L158.6 154.9L158.2 154.9L157.8 155.3L158.1 155.9L158.6 156.3L159.6 156.4Z"/>
<path fill="#c4a77a" fill-rule="evenodd" d="M268.9 131.8L269 135.2L267.3 136.9L265.5 138L264.5 138.1L261.7 139.3L259.8 141.5L259.3 143.3L260.8 144.2L262.4 144.2L264.2 144.7L265.6 144.7L267.8 145.2L270.7 146.2L272.9 147.9L273.4 148.8L279.2 147.9L279.2 143.8L273.5 145.2L272.3 144.4L270.7 144.3L269 143.7L266.1 143.7L264 143.2L264.7 142.4L265.6 141.9L267.6 141.4L270.4 140.2L272.4 138.1L273.6 135.4L276.3 136.5L273.5 135L279.2 130.1L279.2 120.8L276.5 122.1L273.4 123L271.5 125.1L269.1 126.7L268.1 127.1L268.5 128.1L268.5 130.3ZM276.3 136.5L278.5 138.2L279.2 139.1L279.2 138ZM218.3 139.1L220.5 140.8L222 142.8L225.9 142.3L225.3 140L223.8 137.5L221.3 135.9L218.1 135.1L214.2 135.1L216.1 139ZM236.3 139.2L234 137.2L233.3 135.9L233 135.3L233.9 134.8L241.8 133.2L249.7 133L251.2 133.8L252.9 135.2L251.6 137.1L249.7 138.8L246.2 139.7L249.2 142.7L249.8 142.7L250.9 142.3L252.5 142.1L254.9 140.4L256.1 137.5L256.1 137L256.5 135.2L255.3 133.6L253 131.8L250.3 130.5L249.8 130.4L241.8 130.3L233.9 131.7L231.6 132.8L227.8 135.2L227.3 140.7L226.4 142.2L235.6 140.6L237.2 139.7ZM225.1 67.7L227.5 68.5L228.2 68.6L231 69.8L232.3 70.9L233.9 71.3L234.2 71.2L234.5 70.9L236.7 62.8L237.3 58.5L234.4 58.5L233.8 62.7L230.9 63.7L228.8 63.8L227.4 64.1L226 64.1L224.9 63.8L222.5 66.4L223.8 66.9ZM166.5 140.5L164.8 141.5L162.2 143.4L170.5 143.8L178.9 143.4L175.9 141.8L173.4 140.3L170.5 138.3Z"/>
<path fill="#8f6a3a" fill-rule="evenodd" d="M265.2 143.8L266.1 143.9L268.9 144L270.7 144.6L272.2 144.6L273.5 145.4L279.2 144L279.2 138.7L278.7 138L277.6 137.2L273.4 135.1L272.2 138L270.3 140L267.5 141.1L265.5 141.7L264.6 142.2L263.6 143.3ZM233.9 134.5L232.8 135.2L233 136L233.8 137.3L236.2 139.3L237 139.8L237.8 139.3L241.8 135.2L246.4 139.9L249.8 139L251.8 137.3L253.2 135.2L251.3 133.6L249.8 132.7L241.8 133ZM224.7 64.1L226 64.4L227.4 64.3L228.9 64L231 63.9L234 62.9L234.6 58.5L230.2 58.5ZM218 142.7L218.6 143.3L222.3 142.8L220.7 140.6L218.4 138.9L218.1 138.8L215.9 138.8L217.8 142.7Z"/>
<path fill="#6a4512" fill-rule="evenodd" d="M218.9 143.2L218.1 142.4L217.7 142.4L218.1 143.3Z"/>
<path fill="#8f6a3a" d="M117.6 65.6 121 64.9 124.6 64.6 128.3 64.3 131.3 64.1 131.6 68.6 128.3 68.5 124.6 68.3 121.2 68.1 119.5 69.5 118.4 70.6 117.6 70.9Z"/>
<path fill="#6a4512" d="M121.5 64.9 124.6 64.6 128.3 64.3 131.3 64.1 131.6 68.6 128.3 68.4 124.6 68.2 121.5 67.9Z"/>
<path fill="none" stroke="#000" stroke-width="1.35" stroke-linejoin="round" d="M232.5 55.5 228 59.5 225.2 60.7 223.6 62.3 222 63.6 221.1 65.2 218.8 66.8 217.3 68.1 215.7 68.7 213.5 70.2 212.5 71.3 209.3 72 206.8 72.9 204.6 73.6 202.4 74.5 199.8 75.8 198.2 76.8 198.2 78.7 198.1 80.3 198.6 81.6 198.9 83.2 199.5 84.5 200.1 86.1 200.1 87.1 201.4 88.4 203.3 89 204.6 89.3 206.2 89.3 207.8 88.9 209.7 88.1 211.6 86.8 212.8 86.1 214.7 86 215.7 84.2 216.3 83.2 216 84.8 216.9 85.8 217.9 86.1 218.5 86.4 217.9 88.1 219.2 89.3 220.1 90.3 220.7 91.6 222.3 93.2 223.3 94.2 222.3 95.1 223.3 97.1 223.6 97.7 224.9 97.9 227.4 97.7 228 96.7 227.4 95.8 229.3 95.3 231.8 95.1 233.1 94.8 234.7 93.8 235 92.6 235 91 235.6 89.3 235.3 88.1 236.9 87.1 238.8 86.4 240.7 85.2 242.3 84.2 241.3 82.9 239.4 81.9 237.5 81 236.9 79.7 236.9 77.7 237.9 75.8 238.8 74.5 241 73.2 243.2 72 245.8 71 248.3 69.7 249.6 68.4 250.5 66.8 252.8 65.2 254.7 64.2 256.9 64.1 259.1 64.2 261.6 65.2 262.9 66.8 260.4 67.4 258.5 69.1 255.3 70.7 253.1 71.6 250.5 72.6 249.9 74.5 250.2 76.5 250.5 78.1 250.5 79.7 250.2 81 252.1 81.9 253.7 82.9 255.3 83.4 256.9 83.1 259.4 82.6 261.6 82.1 264.8 81.6 268 81.3 271.1 81.3 273.4 80.6 275.9 82.3 278.1 83.1 275.9 83.2 272.7 83.9 271.1 84.5 268 84.7 264.8 84.2 261.6 84.5 258.5 85 256.9 85.5 256.9 86.8 257.8 88.1 259.7 88.4 259.4 89.7 259.7 91.6 258.8 92.6 257.2 92.6 255.3 91.9 254 90.6 251.8 91 250.2 91.9 248.9 93.2 248.9 94.8 249.1 96.1 249.3 97.4 249.6 98 248.6 98.4 247.4 99.2 245.8 99.3 245.5 100.3 244.2 100.8 242 101.1 241.3 100.6 242 99.6 240.4 99.5 237.9 99.8 235.6 100.4 233.1 101.4 229.9 102.2 227.4 102.4 226.1 101.9 225.2 101.1 223.6 100.9 221.7 101.3 220.1 101.7 218.8 102.2 217.3 102.2 216.6 101.3 214.7 101.1 214.1 100.3 213.8 99.6 212.8 99 213.1 97.4 214.1 96.7 214.7 95.5 216 94.8 216.9 94.2 215 93.5 215.4 92.6 215.7 91 216 90.1 214.1 90.8 212.5 92.1 209.7 92.2 208.4 93.2 208.1 94.8 208.1 97.1 209.7 97.7 209.7 99.3 210.3 100.3 209.7 101.3 210.9 102.5 209.3 103.5 208.1 103.8 205.2 104.5 203.9 104 201.4 104 198.9 104.3 197.6 105.6 197 107.1 196 108.3 195.1 108.8 193.8 109.9 193.2 110.6 190.6 111.6 188.4 112 187.5 112.8 187.5 114.5 186.2 115.1 184.3 115.6 183 116.1 182.7 116.9 181.4 117.4 178.9 117.2 178.3 116.1 176.4 116.1 177.3 117.7 177.6 119.3 176.1 119.6 173.8 119.9 172.3 118.8 169.7 119.3 167.3 120.3 167.8 121.2 168.6 122.2 171.3 122.5 173.5 123.2 174.5 123.8 175.4 124.3 176.1 125.4 176.7 126.4 178.6 127.5 178.6 129.3 178.9 131.2 178.4 132.8 178 134.4 177.6 136 176.7 136.4 174.5 136.5 171.3 136.2 168.1 136.4 165 135.9 161.8 135.9 158.6 135.4 157 135.4 156.1 136 153.9 137 152.9 138 154.2 139.3 154.5 140.9 154.5 142.5 154.8 144.1 154.2 145.7 153.9 147.3 152.9 149.2 152.3 151.2 153.6 151.6 154.2 152.1 154.5 153.7 154.5 155.4 153.9 157 155.5 156.6 157.4 157 158.9 156.3 160.5 156.3 162.1 157.6 162.8 158.9 164.7 160.2 165.4 159.7 167.2 158.6 168.5 157.9 171.3 157.9 174.5 157.6 176.1 157.8 176.7 156.3 178.3 155.2 180.2 155 180.2 153.7 182.1 151.5 183 151.3 181.8 149.9 181.4 148.9 182.4 147.3 184 145.7 185.3 144.7 186.2 143.8 189.4 142.8 192.5 141.3 192.5 139.9 192.2 139.3 191.9 137.6 193.5 136.7 195.1 135.9 197.6 136.4 199.5 137 201.4 137.3 203.3 137 205.5 135.4 207.1 135.1 208.4 134.7 210.3 133.1 212.5 133.8 213.8 134.3 215 136 215.7 137.6 217.3 138.9 218.8 139.6 220.4 140.9 222.3 142.6 223.6 143.3 225.8 143.4 226.8 144.4 227.7 144.7 228.4 145.4 229.9 146.3 231.8 147.1 232.5 148.3 233.1 150.5 232.2 152.8 232 153.9 233.4 153.7 235 152.1 236.6 150.5 236.9 149.2 235 148.3 234.7 147.3 236.3 145.7 237.9 146.3 239.4 146.7 241 147.9 241 146.7 239.4 145.2 236.3 143.8 233.1 142.8 232.8 141.2 230.6 141 228.4 140.2 226.8 138.9 225.5 136.4 223.6 134.9 221.7 133.5 221.4 131.5 222 130.2 223.9 128.9 226.1 129.3 225.2 130.2 226.4 131.8 227.7 130.2 229.6 131.2 230.6 132.8 231.8 134.4 233.7 136 236.3 137 238.2 138 241 139.4 242.6 140.5 243.9 141.5 244.2 143.1 243.9 144.7 243.6 146 245.5 147.9 246.7 149.2 248.3 150.8 249.3 152.8 250.9 152.8 249.9 153.7 249.3 155 251.2 157.6 252.4 157.3 253.4 158.9 254.7 158.2 255.9 158.7 255 156.3 255.9 155.4 255.3 154.1 256.9 153.7 258.5 154.7 258.5 153.1 255.9 152.1 255 150.8 254.7 149.6 256.2 149.9 255 148.6 254 147.3 254 145.7 255.3 145.4 256.6 146.7 258.1 147.3 258.5 146 259.7 144.4 261.6 144.2 263.5 144.6 264.8 145 265.4 146 265.4 147.1 265.4 148.9 267 149.9 267.3 151.8 265.7 152.8 267.6 153.7 268.9 155.4 269.5 157 271.1 157.6 272.7 158.2 274.3 158.2 275.9 159.5 277.5 159.2 279.4 158.6 282.2 158.6 282.2 143.4 277.5 143.6 274.3 143.4 271.4 142.1 270.8 140.9 270.2 139.6 270.8 138.6 271.1 137 272.7 136.4 273 135.1 273.4 133.5 274.3 132.2 276.2 131.2 276.5 130.2 276.5 129.3 278.1 128 279.1 127 280 126 282.2 126 282.2 55.5ZM114.3 64.9 117.4 64.9 120.6 64.4 123.1 63.7 125.4 63.4 127.9 63.1 130.1 62.9 131.7 61.8 133.6 62.3 136.1 62.6 135.8 64.2 139.3 65.2 139.5 66.5 138 67.4 136.1 68.7 133.9 69.2 131.1 70 128.5 70.7 125.4 71.6 122.8 72 120.6 72.3 118.4 72.6 114.3 72.6ZM158.9 75.5 161.2 75.3 161.5 76.9 160.2 78.1 159.3 76.8ZM177.6 81.8 179.5 81.9 178.9 83.5 178.1 83.9 177 83.2 176.7 82.6ZM162.8 87.7 160.9 88.4 159.6 90 158.6 91.6 158.6 92.9 159.6 92.7 159.6 91.3 161.2 89.7 162.8 88.7ZM161.8 90.5 163.4 90.3 164.3 91.6 163.7 92.4 162.1 91.6 161.2 91ZM162.4 93.8 164.3 94 164.3 94.7 162.3 94.8ZM161.8 96.1 163.1 96 163.4 96.9 162.1 97.1ZM167.2 100.9 168.6 100.9 168.8 102.1 167.2 102.1ZM177.4 112.8 178.9 112.6 178.8 113.2 177.6 113.2ZM167.5 104.2 169.1 104.1 169.4 104.7 168 105ZM171.7 87.7 172.8 87.9 172.6 88.4 170.8 89 169.7 89.8 170.5 89.8 169.1 91 170.1 90.7 172 90.2 176.1 90.3 176.8 91 175.8 92.1 174.6 93.5 173.5 94.3 174.2 94.9 172.3 95.6 174.4 95.8 175.7 96.1 176.1 96.5 177.9 99 178 99.3 178.6 100 180.5 100.6 181.1 101.3 182.1 101.8 182.8 103.6 181.4 103.2 183.5 105 183 105.8 184 105.6 186.5 105.7 187.9 106.7 188 107.1 187.4 108.4 186.5 108.9 184.6 110.3 187 110.7 186.6 111.5 185.5 112.2 183.2 112.7 182 112.5 179.9 112.8 178.9 112.6 178 112.4 176.4 112.8 174.6 113.5 172.9 112.8 171.6 113.1 170.9 114.4 169.3 113.9 165.9 115.2 164.3 114.9 165 114.4 166.3 113.7 168 111.8 168.9 111.7 169.3 111.2 171.4 111.2 172.9 110.6 174 109.9 172.4 110.4 169.9 109.9 168.7 110.1 167.5 109.7 165.6 109 166.6 108.7 169.5 107.3 169.5 106.3 168.4 105.8 167.3 106.2 168.9 105 169.4 104.7 170.3 104.4 172.6 104.5 172.9 104 172.9 103.3 172.7 102.8 173.2 101.9 172.2 101.8 170.9 100.6 171.1 100.1 171.6 99.2 171 99.1 169.6 99.6 168.5 100 167 100.2 166.5 99.3 167.7 97.5 166.9 96.1 165.3 96.1 164 98 164.3 96.7 164.7 95.1 165.1 94.5 162.7 93.4 163.9 92.6 164.3 91.7 163.9 91.2 164.3 90.2 166 89.7 165.8 88.9 166.2 87.9 167.3 88 171.2 87.9ZM159 97.8 162.9 98.3 163.7 100.1 165.1 100.9 164.8 101.3 162.3 102.2 162.6 103.1 162.8 104.3 163.4 105.5 162.2 108.1 160.2 108.2 157.5 108.8 156.1 109.3 155.4 109.9 151.3 110.4 150.2 109.9 151.3 109.3 149.6 109 149.3 108.3 151.2 107.7 150.9 106.9 152.3 106.7 153.9 104.8 150.1 104.2 151.3 102.9 150.1 102.4 150.7 101.3 153.2 101.4 155.1 101.3 156.1 100.3 154.8 100.3 156.2 98.5 158.2 98.1ZM239.8 92.6 241.7 91.8 242.6 89.7 241.7 89.7 240.1 91ZM234.4 95.1 235 94.8 236.6 91.4 236 91.6 234.7 93.8ZM229 98.4 230.4 98.5 230.3 99 229.1 99ZM251.5 88.4 253.1 87.4 256.2 87.7 253.7 88.7 252.1 89.7ZM252.1 86.4 254 86 255.3 86.6 253.7 87.1ZM216.9 96.1 218.8 95.8 222.3 95.6 222.3 97.1 221.7 98.4 219.5 98.5 217.9 98ZM213.1 97.4 215.7 97.1 216.9 98 216 99 214.1 98.7ZM217.3 99.6 220.4 99.2 220.7 100.1 218.8 100.1ZM244.5 82.6 246.4 81.6 247 82.6 245.5 83.1ZM212.2 137.6 212.7 138.9 212.5 140.9 211.6 142.8 210.3 142.1 209.7 140.9 209.7 139.6ZM211.6 143.3 213.5 144.4 213.1 147.3 212.8 149.9 210.9 150.2 209.7 150.8 209 149.9 209 147.6 209.3 145.7 208.4 144.4 210.3 144.2ZM221.7 153.4 224.5 153.1 228.4 153.6 231.8 152.9 230.3 155.7 230.6 157.8 228.4 157.6 224.5 156 221.7 154.7ZM189.8 148.6 191.9 147.5 193.3 148.3 192.2 149.6 191 148.9ZM256.9 161.8 259.1 161.5 261.6 162.1 265.7 162.4 265.1 163.4 261 163.6 257.2 162.8ZM255 150.8 256.9 150.7 260.4 153.4 259.4 153.7 257.2 152.5ZM264.5 149.4 266.4 149.4 266.7 150.4 264.8 150.2ZM264.5 152 265.4 152 265.1 153.1 264.5 152.8ZM270.2 159.5 271.8 158.7 271.4 160.5ZM162.1 165 162.4 163.1 163.2 161.8 163.6 160.9 165.3 160.5 165.6 161.5 168.1 162.8 170 162.6 172.9 162.4 175.4 163.1 177.6 162.4 179.2 161.1 182.4 160.5 184.9 158.9 188.7 158.2 191.9 157.6 195.1 157.3 198.2 157.9 201.4 157 204.6 157.1 207.1 157.3 209.7 157.1 211.6 156.2 213.8 156 215 157.3 217.4 156.8 215.7 158.9 216 160.8 217.3 161.8 217.6 163.4 217.6 165ZM267 145.9 269.5 146.2 272.7 146 275.3 145 274.3 143.9 271.1 144.2 268.6 145.2Z"/>
<path fill="#000" stroke="#000" stroke-width="0.8" d="M158.9 75.5 161.2 75.3 161.5 76.9 160.2 78.1 159.3 76.8ZM177.6 81.8 179.5 81.9 178.9 83.5 178.1 83.9 177 83.2 176.7 82.6ZM189.8 148.6 191.9 147.5 193.3 148.3 192.2 149.6 191 148.9ZM229 98.4 230.4 98.5 230.3 99 229.1 99ZM167.2 100.9 168.6 100.9 168.8 102.1 167.2 102.1ZM264.5 149.4 266.4 149.4 266.7 150.4 264.8 150.2ZM264.5 152 265.4 152 265.1 153.1 264.5 152.8ZM270.2 159.5 271.8 158.7 271.4 160.5ZM244.5 82.6 246.4 81.6 247 82.6 245.5 83.1Z"/>
<path fill="none" stroke="#000" stroke-width="0.95" stroke-linejoin="round" d="M154.2 141.2 156.4 140.5 161.5 141 162.8 142.1 160.5 144.1 160.9 146.3 160.2 148.3 158.6 148.6 160.2 150.5 159.3 152.5 160.2 153.7 158.6 155.4 158.9 156.3M176.7 136.4 178 137.5 180.2 138.1 182.4 138.6 184.6 138.1 186.8 139.3 188.7 139.6 192.2 139.4M190.5 111.6 192.5 112.7 195.7 114.1 197.6 115.1 197.9 115.7 199.8 116.7 201.7 116.7M193.2 110.8 196.3 110.4 198.2 110.4 200.8 111.4 200.5 112.7 201.1 112.7M205.2 104.6 204.6 107.1 203.6 108.7 201.4 109.1 201.7 111.2 201.1 112.7 202.4 114.1 201.4 115.1 201.7 116.7M201.7 116.7 203.6 117.7 206.5 118.2 208.4 118.4 207.1 119.9 206.5 122.8M206.5 122.8 204.6 123.2 203 124.8 201.7 126 201.7 127.3 203.9 126.7 204.3 128.3M204.3 128.3 204.9 130.6 203.6 131.2 204.6 133.8 206.2 135.1M206.5 122.8 209.7 122.8 212.5 123M204.3 128.3 207.4 128.1 209.3 127 210.9 128.5 211.9 126.4 214.4 127.3 215.5 126.2 215.7 125.2M212.5 123 212.8 124.6 215.7 125.2M212.5 123 214.7 123.8 217.3 123.5 221.1 122.8 223.6 123.2 223.3 121.9 223.6 120.9 226.1 119.6M215.7 125.2 217.3 125.4 220.7 124.8 221.7 125.7 225.8 126.4 228.4 126.7 229.9 126 233.1 125.7 233.4 125.4M225.8 126.4 225.2 128 226 129.3M225.5 129.6 228.4 129.6 230.9 128.9 231.8 127.3 234.1 126.4 235 126.4M233.4 125.4 234.7 123.5 236 122.2 236.6 121.5M226.1 119.6 229 119.6 229.9 118.3 233.1 119.1 236 119.6 236.6 121.5M220.7 114.1 222 115.1 222 116.1 223.6 117.4 226.1 119 226.1 119.6M220.7 114.1 223.6 113.5 226.8 112.4 229.3 112.2M227.4 102.5 228 104.5 228.7 106.7 229 108.7 229.9 111.6 229.3 112.2M209.7 99.3 212.5 99.6 213.8 99.6M229.3 112.2 231.5 112.8 234.1 113.2 234.7 114.1 236.3 114.1 238.5 114.8 241.3 115.4 241.3 116.7M236 119.6 238.5 118.6 240.7 117.4 241.3 116.7M241.3 116.7 244.2 117 247.4 117 250.5 117 254 118M254 118 255 116.4 257.5 114.1 258.8 112.5 257.5 109.9 256.9 108 258.1 106.4 256.9 102.5 254.7 101.1M254.7 101.1 248.9 101.1 244.5 100.8M254.7 101.1 254 99 250.5 98.4 249.6 98M249.1 95.6 252.1 94.5 255.3 94.8 258.5 94.8 261.6 95.3 266.7 96.7M256.9 102.5 260 102.4 264.2 101.6 263.5 99.6 266.7 96.7 271.4 95.8 271.4 94.2 270.5 91.6 268.9 90.8M259.4 89.7 262.6 89.3 264.8 89.8 268.9 90.8 270.2 89.7 269.5 88.4 270.8 86.1 271.1 84.7M271.4 95.1 275.9 96.4 280 97.1M257.5 109.9 260 109 263.2 109 268 109.3 272.7 110.3 280 110.6M254 118 252.8 120.3 255 121.7 258.5 121.7 261.6 122.5 266.7 120.7M266.7 120.7 269.5 119.9 271.8 120.9 274.9 121.9 276.2 123.8 277.8 126.4 276.5 128.3 271.8 129.6 271.1 126 268.9 123.2 266.7 120.7M271.8 129.6 276.5 130.6M236.6 121.5 238.8 122.3 242 122 244.5 120.9 247.4 119.9 251.2 120.3 252.8 120.3M252.8 120.3 252.1 123.2 249.6 127 246.7 127.7 244.2 127.7 242.3 128.3 238.2 128.3 235 126.4M232.5 130.6 234.7 130.6 237.9 130.9 242.6 131.2M232.5 130.6 232.5 132.2 233.7 133.8 236.3 135.7 238.2 137.6 241 139.4M242.3 128.3 243.9 130.6 242.6 131.5 243.6 134.4 244.5 136 242.3 136.7 241 139.4M242.3 136.7 244.5 137 246.7 138 244.8 138.9 243.6 141.2M244.8 138.9 246.1 139.3 247.7 141.2 247.4 143.8 248.9 145.4 248 147 245.8 148.3M247.7 141.2 249.6 140.2 253.4 139.9 255.3 141.8 255 143.1 251.8 143.8 248.6 144.4M246.7 127.7 248.3 129.6 250.2 130.6 253.7 132.2 254.3 133.8 253.4 136 255 137.6 253.4 139.9M254.3 133.8 256.9 135.1 260 135.4 263.2 135.5 266.4 134.4 268.9 134.1 271.1 135.2M255 143.1 257.2 142.8 260 142.3 263.2 143.1 265.7 141.8 266.7 141.2 269.5 140.9 271.1 141M265.7 141.8 266.7 143.1 265.1 145M218.5 86.4 219.8 83.5 222 82.3 221.4 79.7 222.6 77.7 220.7 75.5 221.1 72.3 223.6 69.7 226.8 68.4 228.4 65.8 231.5 62.9 234.1 60.4 236.3 58.1 237.9 55.5M259.1 64.2 258.1 62 257.5 58.1 256.9 55.5M270.5 81.1 274.3 79 277.5 77.1 279.4 75.8 277.5 73.2 277.5 71.3 276.2 69.4 277.8 67.4 276.2 66.2 277.2 64.5 275.9 62.9 274.9 60.7 274.3 58.8 273.4 55.5M159.3 98.8 158.3 100 157 100.3 158.6 101.9 160.9 101.6 162.4 102.1M172.7 99.1 174.2 98.5 175.4 97.7 176.1 96.5M209.7 157.1 208.7 158.9 208.7 164M176.7 163.2 176.4 165"/>
</g>
<rect x="117.6" y="58.5" width="161.6" height="104.6" fill="none" stroke="#666" stroke-width="0.9"/>
<rect x="134.9" y="83" width="111" height="48.1" fill="none" stroke="#000" stroke-width="2"/>
<rect x="294.1" y="58.6" width="11.9" height="8.78" fill="#0c4a84"/>
<rect x="294.1" y="67.33" width="11.9" height="8.78" fill="#1565ad"/>
<rect x="294.1" y="76.05" width="11.9" height="8.78" fill="#4a8ad6"/>
<rect x="294.1" y="84.78" width="11.9" height="8.78" fill="#7aaae3"/>
<rect x="294.1" y="93.5" width="11.9" height="8.78" fill="#a9c9ef"/>
<rect x="294.1" y="102.23" width="11.9" height="8.78" fill="#dbe8f7"/>
<rect x="294.1" y="110.95" width="11.9" height="8.78" fill="#eee0cc"/>
<rect x="294.1" y="119.68" width="11.9" height="8.78" fill="#d7bf98"/>
<rect x="294.1" y="128.4" width="11.9" height="8.78" fill="#c4a77a"/>
<rect x="294.1" y="137.12" width="11.9" height="8.78" fill="#8f6a3a"/>
<rect x="294.1" y="145.85" width="11.9" height="8.78" fill="#6a4512"/>
<rect x="294.1" y="154.58" width="11.9" height="8.78" fill="#3d2a0a"/>
<path stroke="#111" stroke-width="0.9" d="M294.1 67.33H306M294.1 76.05H306M294.1 84.78H306M294.1 93.5H306M294.1 102.23H306M294.1 110.95H306M294.1 119.68H306M294.1 128.4H306M294.1 137.12H306M294.1 145.85H306M294.1 154.58H306"/>
<rect x="294.1" y="58.6" width="11.9" height="104.7" fill="none" stroke="#111" stroke-width="1"/>
<g font-family="Liberation Sans, sans-serif" fill="#000" stroke="#000" stroke-width="0.3" style="filter:grayscale(1)"><text x="309.4" y="72.12" font-size="13.6">25</text><text x="309.4" y="89.58" font-size="13.6">15</text><text x="309.4" y="107.03" font-size="13.6">5</text><text x="309.4" y="124.48" font-size="13.6">-5</text><text x="309.4" y="141.93" font-size="13.6">-15</text><text x="309.4" y="159.38" font-size="13.6">-25</text><text transform="translate(342.9 111.45) rotate(-90)" font-size="14.25" text-anchor="middle">Anomaly (%)</text><text x="198.75" y="51.4" font-size="17.75" text-anchor="middle">(2007-2012)-(1979-2006)</text></g>
</svg>
</body></html>
